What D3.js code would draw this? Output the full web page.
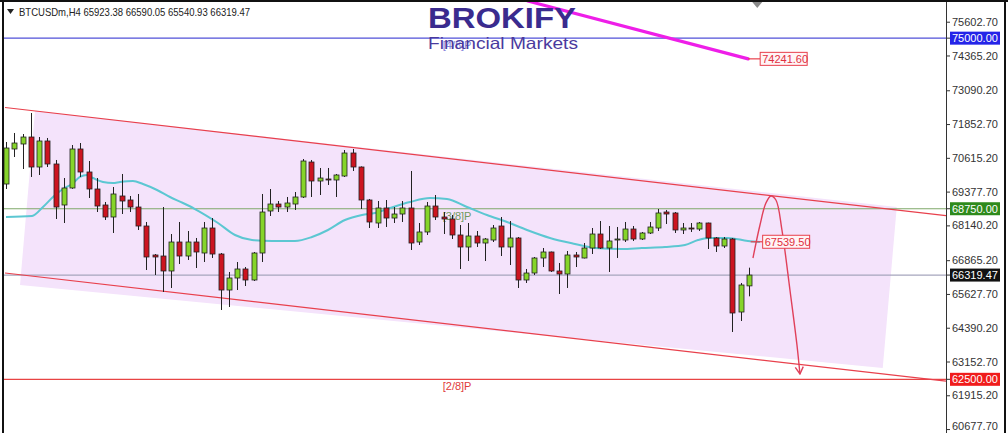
<!DOCTYPE html>
<html><head><meta charset="utf-8">
<script src="https://cdn.jsdelivr.net/npm/d3@7"></script>
<style>
body{margin:0;background:#fff;}
svg{display:block;}
text{font-family:"Liberation Sans",Arial,sans-serif;}
</style>
</head><body>
<svg id="c" width="1008" height="433"></svg>
<script>
// ---------- DATA ----------
const symbolTitle = "BTCUSDm,H4";
const headerOHLC = [65923.38, 66590.05, 65540.93, 66319.47];

const opens = [69656,70939,71122,71378,70279,71232,70389,68887,69510,70939,
70096,69473,68887,68447,69217,69070,68813,68117,67055,67018,
66469,67531,67018,67531,67128,68044,67091,65772,66212,66542,
66139,67128,68667,68923,68813,68923,69180,70462,69766,69840,
69803,69949,70792,70279,69070,68227,68777,68410,68557,68777,
67531,67898,68850,68447,68374,67788,67348,67751,67494,67604,
68117,67348,67678,66139,66395,66945,67165,66469,66359,67055,
66945,67311,67824,67311,67604,67604,68007,67641,67861,68044,
68630,68594,67971,68044,68007,68227,67678,67384,67641,64966,65923.38];
const highs = [71195,71525,71488,72258,71378,71342,70536,69876,71085,71158,
70499,69876,68997,69546,70023,69217,69290,68264,67091,68813,
67824,68264,67934,67678,68264,68410,67128,66432,66798,66615,
67165,69290,69473,69033,69180,69363,70572,70536,70243,70243,
70023,70902,70939,70300,69107,69033,69070,68813,69033,70133,
68227,68997,69253,68630,68520,68154,68227,67934,67678,68154,
68447,68300,67714,66542,66982,67311,67180,66762,67201,67165,
67494,68044,68300,68117,68081,68264,68117,67898,68264,68740,
68704,68630,68227,68227,68264,68240,67714,67714,67678,66029,66590.05];
const lows = [69473,70646,70206,69913,69986,70279,68374,68227,69480,69913,
69143,68630,68337,67861,68557,68630,67971,66505,66322,65699,
65846,66725,66872,66578,66798,66945,65040,65150,65772,65919,
66102,66798,68484,68630,68630,68704,69143,69180,69253,69620,
69180,69913,70133,68740,68044,68044,68081,68227,68264,67238,
67421,67788,68337,67824,67641,66542,66835,67348,66835,67531,
67018,66688,65846,66029,66322,66615,66432,65626,65846,66615,
66930,67091,67275,66432,66945,67531,67568,67604,67824,67934,
68191,67861,67824,67898,67934,67275,67165,67311,64234,64637,65540.93];
const closes = [70975,71158,71378,70279,71232,70389,68813,69510,70939,70096,
69473,68850,68447,69290,69033,68813,68117,66982,66982,66469,
67531,67018,67531,67165,68044,67091,65772,66212,66542,66139,
67128,68630,68923,68813,68960,69180,70499,69766,69876,69803,
69986,70792,70279,69070,68264,68777,68410,68557,68777,67494,
67898,68850,68447,68374,67788,67348,67751,67494,67641,68044,
67348,67678,66139,66395,66945,67165,66469,66359,67055,66982,
67311,67824,67311,67568,67641,68007,67641,67861,68081,68594,
68557,67971,68044,68007,68227,67678,67384,67641,64930,65956,66319.47];

// moving average, read at candle positions (index, value)
const maIndex = [0,3.15,4.48,5.69,6.9,8.0,8.96,9.81,10.54,11.75,12.96,13.81,15.38,16.59,18.29,19.86,21.44,22.89,25.68,27.74,29.8,32.22,35.0,37.06,39.0,41.06,43.12,44.7,46.51,48.93,51.36,53.42,55.84,58.26,60.68,63.11,65.89,68.92,71.34,74.61,77.03,79.82,82.24,83.82,85.03,87.45,89.87,91.33];
const maValue = [68447,68484,68813,69180,69473,69656,69913,69986,69876,69730,69693,69730,69766,69656,69436,69180,68960,68740,68227,67788,67604,67568,67568,67714,67971,68337,68520,68594,68777,68997,69143,69107,68813,68520,68264,67971,67678,67458,67311,67275,67311,67348,67421,67604,67678,67678,67568,67531];
const maLast = 67539.50;

const axisTicks = [75602.70,74365.20,73090.20,71852.70,70615.20,69377.70,68140.20,66865.20,65627.70,64390.20,63152.70,61915.20,60677.70];
const levelPrices = [75000, 68750, 62500];
const levelLabels = ["[4/8]P", "[3/8]P", "[2/8]P"];
const currentPrice = 66319.47;

// channel (index, price)
const channelUpper = [[-0.12,72459],[113.86,68495]];
const channelLower = [[-0.12,66395],[113.86,62431]];
const channelBox = [[3.51,72331],[107.9,68813],[106.2,62915],[1.7,65956]];
const magentaTrend = [[63.2,76360],[89.9,74241.60]];
const projection = [[90.48,66945],[91.33,68154],[92.05,68960],[92.65,69217],[93.26,69070],[93.99,67971],[94.96,65772],[95.81,63757],[96.17,62695]];

// ---------- DRAW ----------
const W = 1008, H = 433;
const plotL = 4, plotR = 946;
const svg = d3.select("#c");
const x = d3.scaleLinear().domain([0, 90]).range([6, 749]);
const y = d3.scaleLinear().domain([60533, 76398]).range([H, 0]);

svg.append("rect").attr("width", W).attr("height", H).attr("fill", "#fff");
const defs = svg.append("defs");
defs.append("clipPath").attr("id", "pc")
  .append("rect").attr("x", plotL).attr("y", 2).attr("width", plotR - plotL).attr("height", H - 2);
defs.append("marker").attr("id", "arr").attr("viewBox", "0 0 10 10").attr("refX", 9).attr("refY", 5)
  .attr("markerWidth", 10).attr("markerHeight", 10).attr("orient", "auto")
  .attr("markerUnits", "userSpaceOnUse")
  .append("path").attr("d", "M2,1 L9,5 L2,9").attr("fill", "none").attr("stroke", "#e0405a").attr("stroke-width", 1.4);

const g = svg.append("g").attr("clip-path", "url(#pc)");

// channel fill
g.append("path")
  .attr("d", d3.line().x(d => x(d[0])).y(d => y(d[1]))(channelBox) + "Z")
  .attr("fill", "#f4e3fb").attr("stroke", "none");

// horizontal levels
const levelColors = ["#5050d8", "#7fa86a", "#e84444"];
levelPrices.forEach((p, i) => {
  g.append("line").attr("x1", plotL).attr("x2", plotR).attr("y1", y(p)).attr("y2", y(p))
    .attr("stroke", levelColors[i]).attr("stroke-width", 1.2);
});
g.append("line").attr("x1", plotL).attr("x2", plotR).attr("y1", y(currentPrice)).attr("y2", y(currentPrice))
  .attr("stroke", "#a6a6bd").attr("stroke-width", 1.2);

// channel lines
[channelUpper, channelLower].forEach(c => {
  g.append("line").attr("x1", x(c[0][0])).attr("y1", y(c[0][1])).attr("x2", x(c[1][0])).attr("y2", y(c[1][1]))
    .attr("stroke", "#e8404c").attr("stroke-width", 1.2);
});

// level labels
const labelColors = ["#5a5ad0", "#6f9a5c", "#e03a3a"];
levelPrices.forEach((p, i) => {
  g.append("text").attr("x", x(52.9)).attr("y", y(p) + 11).attr("font-size", 11)
    .attr("fill", labelColors[i]).attr("opacity", i === 0 ? 0.75 : 1).text(levelLabels[i]);
});

// moving average
const maPts = maIndex.map((d, i) => [d, maValue[i]]);
g.append("path").attr("d", d3.line().x(d => x(d[0])).y(d => y(d[1])).curve(d3.curveMonotoneX)(maPts))
  .attr("fill", "none").attr("stroke", "#5cc7d2").attr("stroke-width", 2);

// candles
const bw = 5;
const cg = g.append("g");
opens.forEach((o, i) => {
  const c = closes[i], cx = Math.round(x(i)) + 0.5;
  cg.append("line").attr("x1", cx).attr("x2", cx).attr("y1", y(highs[i])).attr("y2", y(lows[i]))
    .attr("stroke", "#222").attr("stroke-width", 1);
  const top = y(Math.max(o, c)), bot = y(Math.min(o, c));
  cg.append("rect").attr("x", cx - bw / 2).attr("y", top).attr("width", bw).attr("height", Math.max(1, bot - top))
    .attr("fill", c >= o ? "#86d42a" : "#cc1420").attr("stroke", "#222").attr("stroke-width", 0.8);
});

// magenta trend
g.append("line").attr("x1", x(magentaTrend[0][0])).attr("y1", y(magentaTrend[0][1]))
  .attr("x2", x(magentaTrend[1][0])).attr("y2", y(magentaTrend[1][1]))
  .attr("stroke", "#ee1ee8").attr("stroke-width", 3.2).attr("stroke-linecap", "round");

// projection path
g.append("path").attr("d", d3.line().x(d => x(d[0])).y(d => y(d[1])).curve(d3.curveCatmullRom)(projection))
  .attr("fill", "none").attr("stroke", "#e0405a").attr("stroke-width", 1.4).attr("marker-end", "url(#arr)");

// price tags for MA end and magenta end
function tag(idx, price, label) {
  const px = x(idx), py = y(price);
  g.append("line").attr("x1", px).attr("x2", px + 12).attr("y1", py).attr("y2", py).attr("stroke", "#e8404c").attr("stroke-width", 1.2);
  g.append("rect").attr("x", px + 12).attr("y", py - 6.5).attr("width", 47).attr("height", 13)
    .attr("fill", "#fff4f6").attr("stroke", "#e8404c").attr("stroke-width", 1);
  g.append("text").attr("x", px + 14).attr("y", py).attr("dy", "0.36em").attr("font-size", 11)
    .attr("fill", "#e03040").text(label);
}
tag(90.2, maLast, d3.format(".2f")(maLast));
tag(89.9, magentaTrend[1][1], d3.format(".2f")(magentaTrend[1][1]));

// small gray marker at top
svg.append("path").attr("d", `M${x(91)-5},2 L${x(91)+5},2 L${x(91)},8 Z`).attr("fill", "#8a8a8a");

// header
svg.append("path").attr("d", "M7,9 L14,9 L10.5,14 Z").attr("fill", "#222");
svg.append("text").attr("x", 19).attr("y", 16).attr("font-size", 10.5).attr("fill", "#222")
  .attr("textLength", 231).attr("lengthAdjust", "spacingAndGlyphs")
  .text(symbolTitle + "  " + headerOHLC.map(d3.format(".2f")).join(" "));

// logo
svg.append("text").attr("x", 428).attr("y", 28).attr("font-family", "Inter, 'Noto Sans', sans-serif")
  .attr("font-weight", 800).attr("font-size", 29).attr("fill", "#3a2b8e")
  .attr("textLength", 148).attr("lengthAdjust", "spacingAndGlyphs").text("BROKIFY");
svg.append("text").attr("x", 428).attr("y", 49).attr("font-family", "Inter, 'Noto Sans', sans-serif")
  .attr("font-size", 16.5).attr("fill", "#4a3a9e")
  .attr("textLength", 150).attr("lengthAdjust", "spacingAndGlyphs").text("Financial Markets");

// axis
const ax = svg.append("g").attr("transform", `translate(${plotR},0)`)
  .call(d3.axisRight(y).tickValues(axisTicks).tickFormat(d3.format(".2f")).tickSize(4).tickPadding(2));
ax.select(".domain").remove();
ax.selectAll("line").attr("stroke", "#333");
ax.selectAll("text").attr("font-size", 11).attr("fill", "#333").attr("font-family", "'Liberation Sans',Arial,sans-serif")
  .attr("y", function(d) { return Math.min(0, (H - 7) - y(d)); });

// highlighted price boxes
const boxes = [[75000, "#2424e8"], [68750, "#2e8a1c"], [currentPrice, "#111"], [62500, "#f01c1c"]];
boxes.forEach(([p, col]) => {
  svg.append("line").attr("x1", plotR).attr("x2", plotR + 4).attr("y1", y(p)).attr("y2", y(p)).attr("stroke", "#333");
  svg.append("rect").attr("x", plotR + 4).attr("y", y(p) - 6.5).attr("width", 50).attr("height", 13).attr("fill", col);
  svg.append("text").attr("x", plotR + 6).attr("y", y(p)).attr("dy", "0.36em").attr("font-size", 11)
    .attr("fill", "#fff").text(d3.format(".2f")(p));
});

// frame
svg.append("line").attr("x1", plotR + 0.5).attr("x2", plotR + 0.5).attr("y1", 0).attr("y2", H).attr("stroke", "#333");
svg.append("rect").attr("x", 0).attr("y", 0).attr("width", W).attr("height", 2).attr("fill", "#111");
svg.append("rect").attr("x", 2).attr("y", 0).attr("width", 2).attr("height", H).attr("fill", "#111");
svg.append("rect").attr("x", 1004).attr("y", 0).attr("width", 2).attr("height", H).attr("fill", "#111");
</script>
</body></html>
